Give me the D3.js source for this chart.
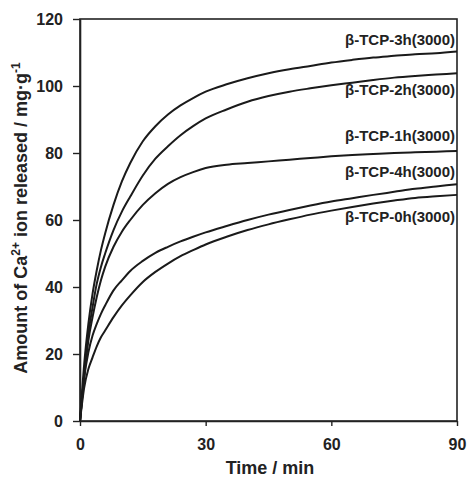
<!DOCTYPE html>
<html lang="en">
<head>
<meta charset="UTF-8">
<title>Ca release</title>
<script src="https://cdn.jsdelivr.net/npm/d3@7"></script>
<style>
  body { margin: 0; background: #fff; }
  text { font-family: "Liberation Sans", Arial, sans-serif; font-weight: bold; fill: #222; }
</style>
</head>
<body>
<div id="output"></div>
<script>

// time points (min)
var times = [0, 1, 2, 3, 4, 5, 6, 8, 10, 12, 15, 18, 21, 24, 27, 30, 35, 40, 45, 50, 55, 60, 65, 70, 75, 80, 85, 90];

// Ca2+ released, mg/g
var tcp3h = [0, 17, 29, 38, 45, 51, 56, 64.5, 71.5, 77, 83.5, 88, 91.5, 94.2, 96.4, 98.3, 100.5, 102.3, 103.8, 105, 106, 107, 107.8, 108.5, 109, 109.5, 109.8, 110.3];
var tcp2h = [0, 14, 26, 34, 41, 46, 50, 57, 62.5, 67, 73.3, 78.3, 82, 85.3, 88, 90.3, 93, 95.3, 97, 98.3, 99.3, 100.2, 101, 101.8, 102.5, 103, 103.4, 103.8];
var tcp1h = [0, 13, 24, 31, 37, 42, 46, 52, 56.5, 60, 64.5, 68, 70.8, 72.8, 74.3, 75.5, 76.5, 77, 77.5, 78, 78.5, 79, 79.4, 79.7, 80, 80.2, 80.4, 80.6];
var tcp4h = [0, 13, 20.5, 25.5, 29, 32, 34.5, 39, 42, 44.8, 47.8, 50.2, 52, 53.6, 55, 56.3, 58.2, 60, 61.6, 63, 64.3, 65.5, 66.5, 67.5, 68.4, 69.3, 70, 70.7];
var tcp0h = [0, 10, 15.5, 19, 22.3, 25, 27, 31, 34.5, 37.5, 41.5, 44.5, 47, 49.2, 51, 52.7, 55, 57, 58.7, 60.2, 61.6, 62.8, 63.9, 64.9, 65.8, 66.6, 67.1, 67.5];

var seriesNames = ["β-TCP-3h(3000)", "β-TCP-2h(3000)", "β-TCP-1h(3000)", "β-TCP-4h(3000)", "β-TCP-0h(3000)"];
var seriesValues = [tcp3h, tcp2h, tcp1h, tcp4h, tcp0h];
// value at which each label sits (right edge of plot)
var labelValues = [112.2, 97.3, 83.6, 72.8, 59.4];

var xTicks = [0, 30, 60, 90];
var yTicks = [0, 20, 40, 60, 80, 100, 120];

var w = 470, h = 477;
var margin = {top: 19, right: 13, bottom: 56, left: 80};

var svg = d3.select("#output").append("svg")
    .attr("width", w)
    .attr("height", h)
    .style("display", "block");

svg.append("rect").attr("width", w).attr("height", h).attr("fill", "#fff");

var xScale = d3.scaleLinear().domain([0, 90]).range([margin.left, w - margin.right]);
var yScale = d3.scaleLinear().domain([0, 120]).range([h - margin.bottom, margin.top]);

// frame
svg.append("rect")
    .attr("x", xScale(0)).attr("y", yScale(120))
    .attr("width", xScale(90) - xScale(0))
    .attr("height", yScale(0) - yScale(120))
    .attr("fill", "none").attr("stroke", "#222").attr("stroke-width", 1.6);

var xAxis = svg.append("g")
    .attr("transform", "translate(0," + yScale(0) + ")")
    .call(d3.axisBottom(xScale).tickValues(xTicks).tickSizeInner(5).tickSizeOuter(0).tickPadding(13));

var yAxis = svg.append("g")
    .attr("transform", "translate(" + xScale(0) + ",0)")
    .call(d3.axisLeft(yScale).tickValues(yTicks).tickSizeInner(7).tickSizeOuter(0).tickPadding(10));

[xAxis, yAxis].forEach(function(ax) {
    ax.select(".domain").attr("stroke", "#222").attr("stroke-width", 1.6);
    ax.selectAll(".tick line").attr("stroke", "#222").attr("stroke-width", 1.4);
    ax.selectAll(".tick text")
        .attr("fill", "#222")
        .style("font-size", "16px")
        .style("font-weight", "bold")
        .style("font-family", "'Liberation Sans', Arial, sans-serif");
});

var line = d3.line()
    .x(function(d, i) { return xScale(times[i]); })
    .y(function(d) { return yScale(d); })
    .curve(d3.curveMonotoneX);

svg.append("g").selectAll("path")
    .data(seriesValues)
    .enter().append("path")
    .attr("d", line)
    .attr("fill", "none")
    .attr("stroke", "#1a1a1a")
    .attr("stroke-width", 2);

svg.append("g").selectAll("text")
    .data(seriesNames)
    .enter().append("text")
    .attr("x", xScale(90) - 2)
    .attr("y", function(d, i) { return yScale(labelValues[i]); })
    .attr("text-anchor", "end")
    .style("font-size", "15px")
    .text(function(d) { return d; });

// axis titles
svg.append("text")
    .attr("x", 270)
    .attr("y", h - 3)
    .attr("text-anchor", "middle")
    .style("font-size", "18px")
    .text("Time / min");

var yTitle = svg.append("text")
    .attr("transform", "translate(27,218) rotate(-90)")
    .attr("text-anchor", "middle")
    .style("font-size", "18px");
yTitle.append("tspan").text("Amount of Ca");
yTitle.append("tspan").attr("baseline-shift", "super").style("font-size", "12px").text("2+");
yTitle.append("tspan").text(" ion released / mg·g");
yTitle.append("tspan").attr("baseline-shift", "super").style("font-size", "12px").text("-1");

</script>
</body>
</html>
